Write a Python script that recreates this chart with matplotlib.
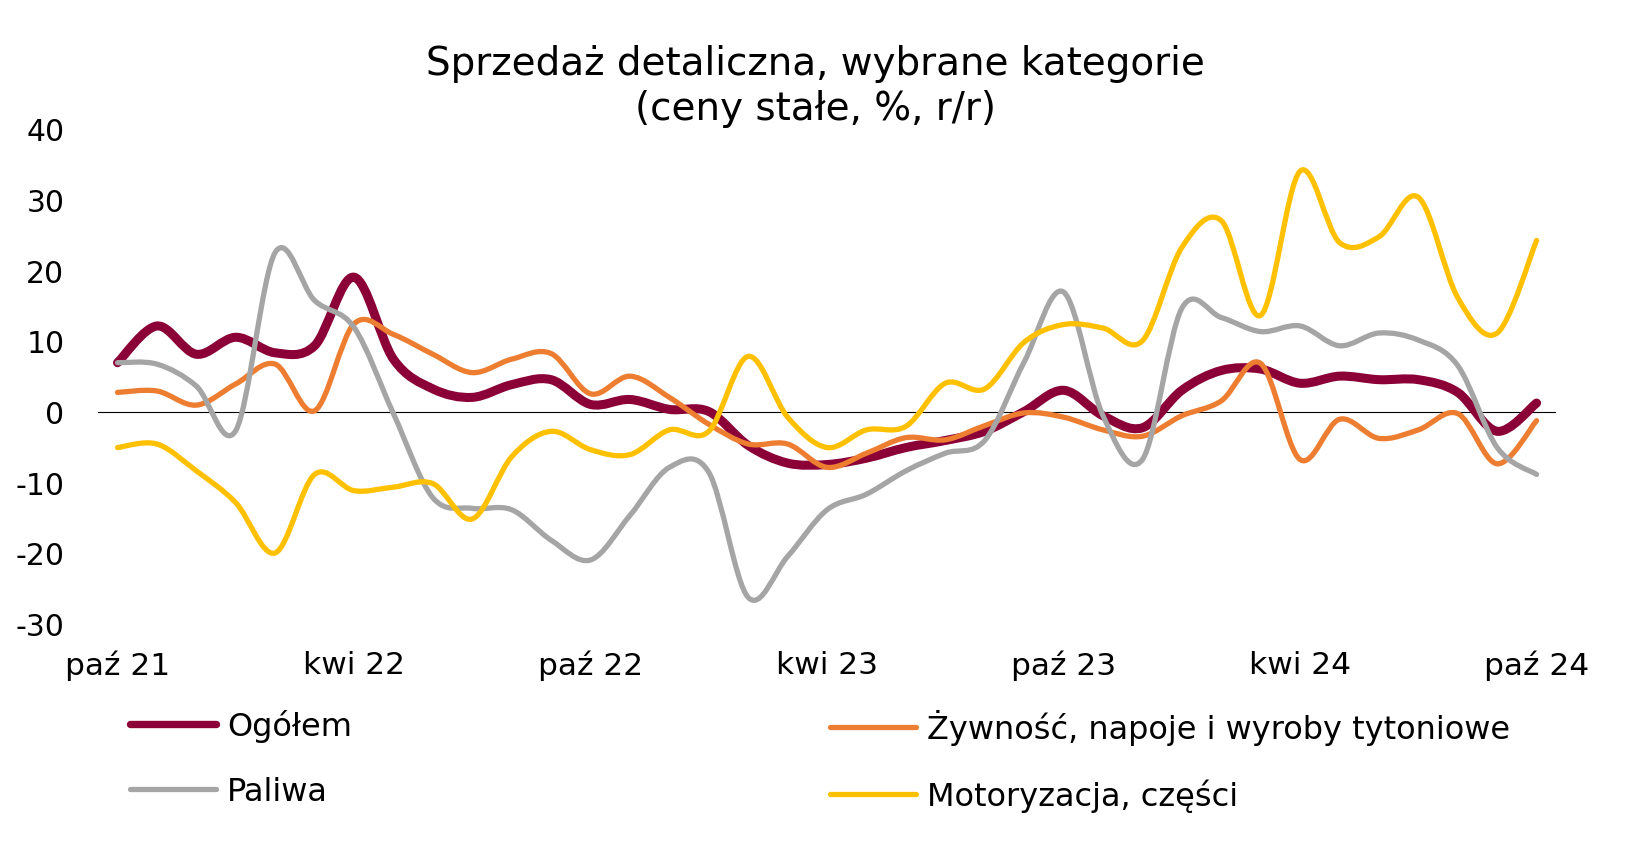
"""Sprzedaż detaliczna, wybrane kategorie - wykres liniowy (wygładzony)"""
import matplotlib
matplotlib.use("Agg")
import matplotlib.pyplot as plt
from matplotlib.path import Path
from matplotlib.patches import PathPatch
from matplotlib.lines import Line2D
import numpy as np

plt.rcParams["font.family"] = ["DejaVu Sans"]
plt.rcParams["axes.unicode_minus"] = False

# dane miesięczne paź 21 - paź 24 (% r/r, ceny stałe)
tick_labels = ["paź 21", "kwi 22", "paź 22", "kwi 23", "paź 23", "kwi 24", "paź 24"]
ogolem = [6.9, 12.1, 8.1, 10.5, 8.3, 9.3, 19.0, 7.4, 3.2, 2.0, 3.8, 4.5, 1.0,
          1.7, 0.3, 0.0, -4.8, -7.3, -7.5, -6.6, -5.1, -4.1, -2.8, 0.0, 3.0,
          -0.6, -2.3, 3.0, 5.8, 6.0, 4.0, 5.0, 4.5, 4.5, 2.7, -2.8, 1.2]
zywnosc = [2.7, 2.9, 0.9, 3.9, 6.7, 0.1, 12.4, 10.9, 8.1, 5.5, 7.4, 8.2, 2.5,
           5.0, 2.0, -1.8, -4.6, -4.6, -7.9, -5.9, -3.7, -4.0, -2.0, -0.2, -0.8,
           -2.6, -3.5, -0.6, 1.5, 6.8, -6.8, -1.1, -3.8, -2.6, -0.3, -7.4, -1.3]
paliwa = [6.9, 6.7, 3.6, -2.7, 22.5, 15.7, 11.9, -0.3, -12.2, -13.7, -13.9, -18.2,
          -21.0, -14.7, -7.9, -8.6, -26.3, -20.5, -13.9, -11.7, -8.4, -5.9, -4.1,
          7.0, 16.9, -0.6, -6.8, 14.6, 13.3, 11.3, 12.1, 9.3, 11.1, 10.1, 6.5,
          -5.1, -8.9]
motoryzacja = [-5.1, -4.6, -8.4, -12.9, -20.0, -8.9, -11.2, -10.7, -10.2, -15.2,
               -6.4, -2.8, -5.4, -6.1, -2.6, -2.8, 7.8, -0.8, -5.1, -2.6, -2.1,
               4.0, 3.2, 9.8, 12.3, 11.8, 10.0, 23.2, 27.0, 13.6, 34.0, 23.9,
               24.7, 30.3, 16.1, 11.1, 24.2]

series = [
    ("Ogółem", ogolem, "#8B0036", 6.5),
    ("Żywność, napoje i wyroby tytoniowe", zywnosc, "#ED7D31", 3.8),
    ("Paliwa", paliwa, "#A5A5A5", 3.8),
    ("Motoryzacja, części", motoryzacja, "#FFC000", 3.8),
]


def smooth_path(xs, ys):
    # krzywe Beziera jak "wygładzona linia" w Excelu (Catmull-Rom)
    pts = np.column_stack([xs, ys]).astype(float)
    ext = np.vstack([pts[0], pts, pts[-1]])
    verts = [pts[0]]
    codes = [Path.MOVETO]
    for i in range(len(pts) - 1):
        p0, p1, p2, p3 = ext[i], ext[i + 1], ext[i + 2], ext[i + 3]
        verts += [p1 + (p2 - p0) / 6, p2 - (p3 - p1) / 6, p2]
        codes += [Path.CURVE4] * 3
    return Path(verts, codes)


W, H = 1631, 845
fig = plt.figure(figsize=(W / 100, H / 100), dpi=100)
ax = fig.add_axes([97.8 / W, 1 - 624.6 / H, (1556.3 - 97.8) / W, (624.6 - 129.7) / H])

x = np.arange(len(ogolem))
ax.axhline(0, color="black", lw=0.8, zorder=1)
for k, (name, vals, col, lw) in enumerate(series):
    ax.add_patch(PathPatch(smooth_path(x, vals), fill=False, edgecolor=col, lw=lw,
                           capstyle="round", joinstyle="round", zorder=2 + k))

ax.set_xlim(-0.5, len(x) - 0.5)
ax.set_ylim(-30, 40)
ax.set_yticks(range(-30, 41, 10))
ax.set_xticks(x[::6])
ax.set_xticklabels(tick_labels)
ax.tick_params(axis="y", length=0, pad=24, labelsize=21.5)
ax.tick_params(axis="x", length=0, pad=19, labelsize=22.5)
for s in ax.spines.values():
    s.set_visible(False)

fig.text(0.5, 1 - 64 / H, "Sprzedaż detaliczna, wybrane kategorie", ha="center",
         va="center", fontsize=28)
fig.text(0.5, 1 - 109 / H, "(ceny stałe, %, r/r)", ha="center", va="center", fontsize=28)

handles = [Line2D([], [], color=c, lw=(5.3 if n == "Ogółem" else 3.8),
                  solid_capstyle="round") for n, _, c, _ in series]
names = [s[0] for s in series]
leg_kw = dict(frameon=False, fontsize=23, handlelength=2.7, handletextpad=0.34,
              labelspacing=1.06, borderpad=0, borderaxespad=0, loc="upper left")
fig.legend([handles[0], handles[2]], [names[0], names[2]],
           bbox_to_anchor=(130 / W, 1 - 710 / H), **leg_kw)
fig.legend([handles[1], handles[3]], [names[1], names[3]],
           bbox_to_anchor=(830 / W, 1 - 710 / H), **leg_kw)

plt.savefig("out.png", dpi=100)
plt.close()
